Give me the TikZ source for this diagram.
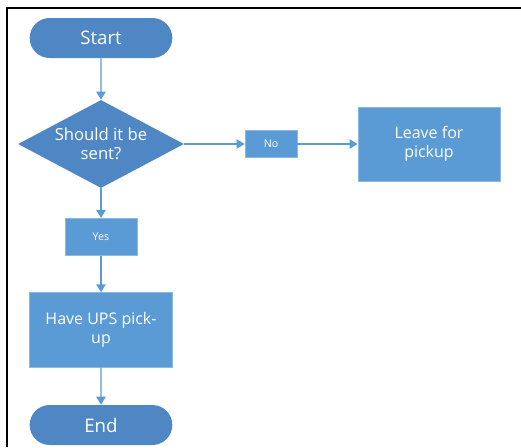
\documentclass[tikz,border=0pt]{standalone}
\usepackage{fontspec}
\setmainfont{Open Sans}
\usetikzlibrary{shapes.geometric,shapes.misc,arrows.meta}
\definecolor{flowblue}{HTML}{5B9BD5}
\definecolor{termblue}{HTML}{4F87C5}
\definecolor{edgeblue}{HTML}{8CB9E3}
\begin{document}
\begin{tikzpicture}[x=0.75pt,y=-0.75pt,
		term/.style={draw=none, fill=termblue, rounded rectangle, inner sep=0pt, minimum width=107pt, minimum height=30pt, text=white, font=\fontsize{14}{15}\selectfont},
		decision/.style={draw=none, fill=termblue, diamond, aspect=1.9, inner sep=0pt, minimum width=124.5pt, minimum height=66pt, text=white, align=center, font=\fontsize{12.5}{14.5}\selectfont},
		proc/.style={draw=edgeblue, line width=0.6pt, fill=flowblue, rectangle, inner sep=0pt, text=white, align=center, font=\fontsize{12}{14.5}\selectfont},
		tag/.style={proc, font=\fontsize{8}{9}\selectfont},
		arrow/.style={draw=flowblue, line width=1.1pt, -{Triangle[width=7pt,length=6pt]}}]
		\useasboundingbox (0,0) rectangle (521,447);
		\draw[line width=2pt] (7,447) -- (7,8) -- (521,8);
		
		\node [term] (start) at (101,38) {Start};
		\node [decision] (sent) at (101,144) {Should it be\\sent?};
		\node [tag, minimum width=39pt, minimum height=20pt] (no) at (271,144) {No};
		\node [proc, minimum width=106.5pt, minimum height=55.5pt] (leave) at (429,144) {Leave for\\pickup};
		\node [tag, minimum width=54pt, minimum height=28pt] (yes) at (101,237) {Yes};
		\node [proc, minimum width=107pt, minimum height=56pt] (ups) at (101,330) {Have UPS pick-\\up};
		\node [term] (end) at (101,425) {End};
		
		\foreach \a/\b in {start/sent, sent/no, no/leave, sent/yes, yes/ups, ups/end}
			\draw [arrow] (\a) -- (\b);
	\end{tikzpicture}
\end{document}
